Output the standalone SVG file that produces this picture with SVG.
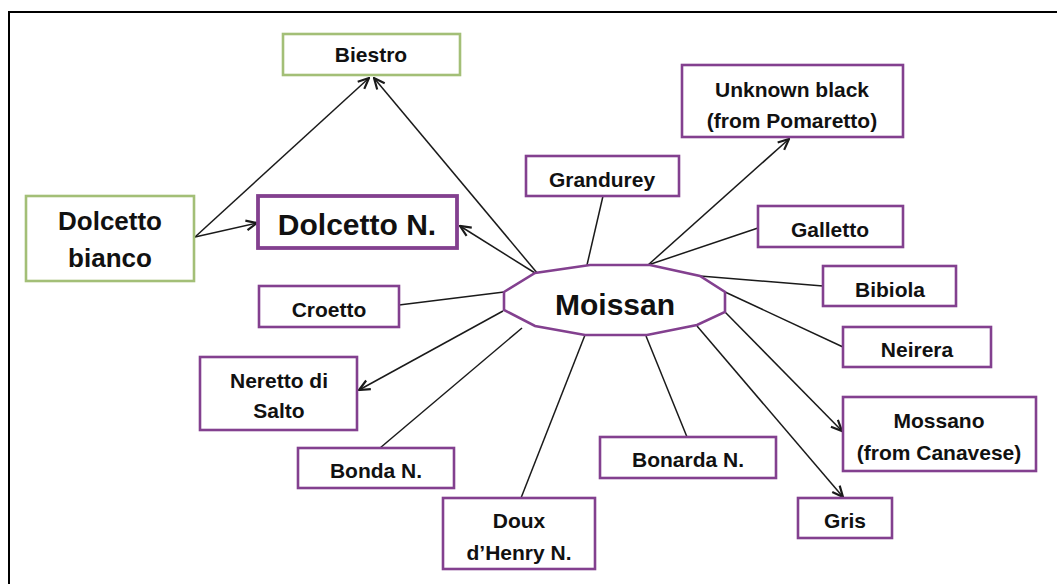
<svg xmlns="http://www.w3.org/2000/svg" width="1057" height="584" viewBox="0 0 1057 584">
<defs>
<style>
.bx{fill:#fff;stroke:#83408f;stroke-width:2.6}
.gb{fill:#fff;stroke:#a3bf77;stroke-width:2.6}
.t{font-family:"Liberation Sans",Arial,sans-serif;font-weight:bold;fill:#111;text-anchor:middle;font-size:21px}
.c{stroke:#1a1a1a;stroke-width:1.5;fill:none}
</style>
<marker id="ah" viewBox="0 0 12 12" refX="11" refY="6" markerWidth="13" markerHeight="13" markerUnits="userSpaceOnUse" orient="auto">
<path d="M1,1.5 L11,6 L1,10.5" fill="none" stroke="#1a1a1a" stroke-width="2"/>
</marker>
</defs>
<rect width="1057" height="584" fill="#fff"/>
<path d="M9,584 V12 H1057" fill="none" stroke="#000" stroke-width="2"/>
<g id="connectors">
<line class="c" x1="195" y1="237" x2="369" y2="78" marker-end="url(#ah)"/>
<line class="c" x1="195" y1="237" x2="257" y2="223" marker-end="url(#ah)"/>
<line class="c" x1="538" y1="274" x2="374" y2="78" marker-end="url(#ah)"/>
<line class="c" x1="535" y1="273" x2="460" y2="226" marker-end="url(#ah)"/>
<line class="c" x1="587" y1="265" x2="603" y2="196"/>
<line class="c" x1="648" y1="265" x2="789" y2="139" marker-end="url(#ah)"/>
<line class="c" x1="648" y1="265" x2="758" y2="228"/>
<line class="c" x1="700" y1="276" x2="823" y2="286"/>
<line class="c" x1="725" y1="292" x2="843" y2="347"/>
<line class="c" x1="725" y1="312" x2="842" y2="431" marker-end="url(#ah)"/>
<line class="c" x1="697" y1="326" x2="843" y2="497" marker-end="url(#ah)"/>
<line class="c" x1="646" y1="336" x2="687" y2="437"/>
<line class="c" x1="585" y1="335" x2="521" y2="498"/>
<line class="c" x1="522" y1="328" x2="380" y2="448"/>
<line class="c" x1="503" y1="311" x2="359" y2="390" marker-end="url(#ah)"/>
<line class="c" x1="504" y1="292" x2="399" y2="305"/>
</g>
<g id="moissan">
<polygon points="504,292 535,273 590,265 650,265 700,276 725,292 725,312 697,325 647,335 585,335 535,326 504,310" fill="#fff" stroke="#83408f" stroke-width="2.6"/>
<text class="t" x="615" y="315" style="font-size:30px">Moissan</text>
</g>
<g id="biestro">
<rect class="gb" x="283" y="34" width="177" height="41"/>
<text class="t" x="371" y="62">Biestro</text>
</g>
<g id="dolcetto-bianco">
<rect class="gb" x="26" y="196" width="168" height="85"/>
<text class="t" x="110" y="230" style="font-size:26px">Dolcetto</text>
<text class="t" x="110" y="267" style="font-size:26px">bianco</text>
</g>
<g id="dolcetto-n">
<rect class="bx" x="258" y="196" width="199" height="52" style="stroke-width:3.8"/>
<text class="t" x="357" y="235" style="font-size:30px">Dolcetto N.</text>
</g>
<g id="grandurey">
<rect class="bx" x="526" y="156" width="153" height="40"/>
<text class="t" x="602" y="187">Grandurey</text>
</g>
<g id="unknown-black">
<rect class="bx" x="682" y="65" width="221" height="72"/>
<text class="t" x="792" y="97">Unknown black</text>
<text class="t" x="792" y="128">(from Pomaretto)</text>
</g>
<g id="galletto">
<rect class="bx" x="758" y="206" width="145" height="41"/>
<text class="t" x="830" y="237">Galletto</text>
</g>
<g id="bibiola">
<rect class="bx" x="823" y="266" width="133" height="40"/>
<text class="t" x="890" y="297">Bibiola</text>
</g>
<g id="neirera">
<rect class="bx" x="843" y="327" width="148" height="40"/>
<text class="t" x="917" y="357">Neirera</text>
</g>
<g id="mossano">
<rect class="bx" x="843" y="397" width="193" height="74"/>
<text class="t" x="939" y="428">Mossano</text>
<text class="t" x="939" y="460">(from Canavese)</text>
</g>
<g id="gris">
<rect class="bx" x="798" y="498" width="94" height="40"/>
<text class="t" x="845" y="528">Gris</text>
</g>
<g id="bonarda">
<rect class="bx" x="600" y="437" width="176" height="41"/>
<text class="t" x="688" y="467">Bonarda N.</text>
</g>
<g id="doux">
<rect class="bx" x="443" y="498" width="152" height="71"/>
<text class="t" x="519" y="528">Doux</text>
<text class="t" x="519" y="560">d’Henry N.</text>
</g>
<g id="bonda">
<rect class="bx" x="298" y="448" width="156" height="40"/>
<text class="t" x="376" y="478">Bonda N.</text>
</g>
<g id="neretto">
<rect class="bx" x="200" y="357" width="157" height="73"/>
<text class="t" x="279" y="388">Neretto di</text>
<text class="t" x="279" y="418">Salto</text>
</g>
<g id="croetto">
<rect class="bx" x="259" y="286" width="140" height="41"/>
<text class="t" x="329" y="317">Croetto</text>
</g>
</svg>
